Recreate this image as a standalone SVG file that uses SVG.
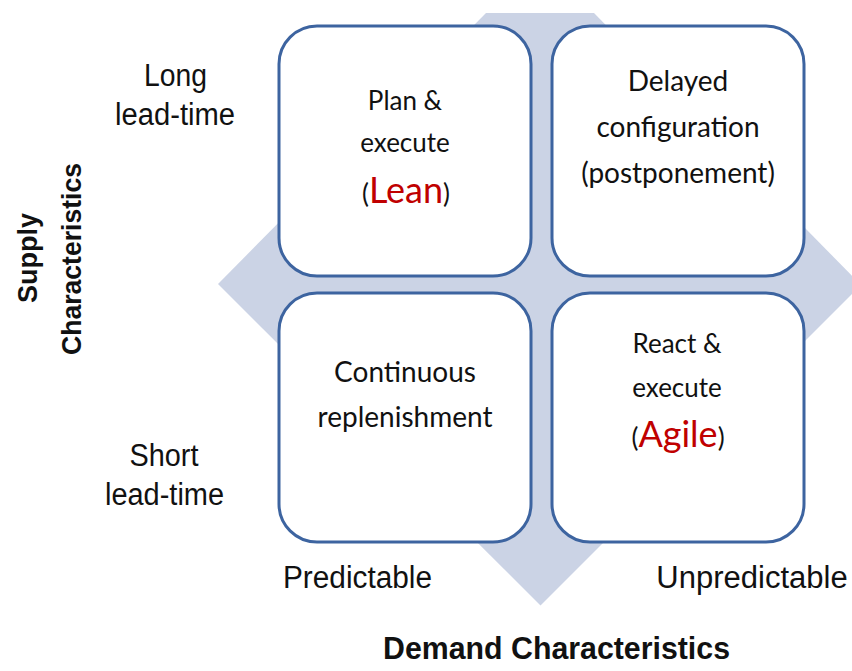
<svg xmlns="http://www.w3.org/2000/svg" width="852" height="671" viewBox="0 0 852 671">
<style>
.box{fill:#ffffff;stroke:#3d64a0;stroke-width:3}
.bt{font-family:Lato,"Open Sans","Noto Sans",sans-serif;fill:#111;text-anchor:middle}
.s{font-size:26px}
.l{font-size:28px}
.ax{font-family:"Liberation Sans",Arial,sans-serif;fill:#111;text-anchor:middle;font-size:31px}
.axb{font-family:"Liberation Sans",Arial,sans-serif;fill:#111;text-anchor:middle;font-weight:bold}
.red{fill:#c00000;font-size:36px}
</style>
<rect width="852" height="671" fill="#ffffff"/>
<polygon id="diamond" points="486,13 594,13 861,285 540.5,605.5 218,284" fill="#cbd3e5"/>
<g id="lean">
<rect class="box" x="279" y="26" width="252" height="250" rx="38"/>
<text class="bt s" x="405" y="110">Plan &amp;</text>
<text class="bt s" x="405" y="152">execute</text>
<text class="bt s" x="406" y="203">(<tspan class="red">Lean</tspan>)</text>
</g>
<g id="postponement">
<rect class="box" x="552" y="26" width="252" height="250" rx="38"/>
<text class="bt l" x="678" y="91">Delayed</text>
<text class="bt l" x="678" y="137">configuration</text>
<text class="bt l" x="678" y="183">(postponement)</text>
</g>
<g id="continuous">
<rect class="box" x="279" y="293" width="252" height="249" rx="38"/>
<text class="bt l" x="405" y="382">Continuous</text>
<text class="bt l" x="405" y="427">replenishment</text>
</g>
<g id="agile">
<rect class="box" x="552" y="293" width="252" height="249" rx="38"/>
<text class="bt s" x="677" y="353">React &amp;</text>
<text class="bt s" x="677" y="397">execute</text>
<text class="bt s" x="678" y="447">(<tspan class="red">Agile</tspan>)</text>
</g>
<g id="axis-labels">
<text class="ax" x="175.5" y="86" textLength="63" lengthAdjust="spacingAndGlyphs">Long</text>
<text class="ax" x="175" y="125" textLength="120" lengthAdjust="spacingAndGlyphs">lead-time</text>
<text class="ax" x="164" y="466" textLength="69" lengthAdjust="spacingAndGlyphs">Short</text>
<text class="ax" x="164.5" y="505" textLength="119" lengthAdjust="spacingAndGlyphs">lead-time</text>
<text class="ax" x="357.5" y="588" textLength="149" lengthAdjust="spacingAndGlyphs">Predictable</text>
<text class="ax" x="752" y="588" font-size="28">Unpredictable</text>
<text class="axb" x="556.5" y="659" font-size="31" textLength="347" lengthAdjust="spacingAndGlyphs">Demand Characteristics</text>
<text class="axb" font-size="28" transform="translate(37,258) rotate(-90)" textLength="90" lengthAdjust="spacingAndGlyphs">Supply</text>
<text class="axb" font-size="28" transform="translate(81,259) rotate(-90)" textLength="192" lengthAdjust="spacingAndGlyphs">Characteristics</text>
</g>
<g id="connectors"/>
</svg>
